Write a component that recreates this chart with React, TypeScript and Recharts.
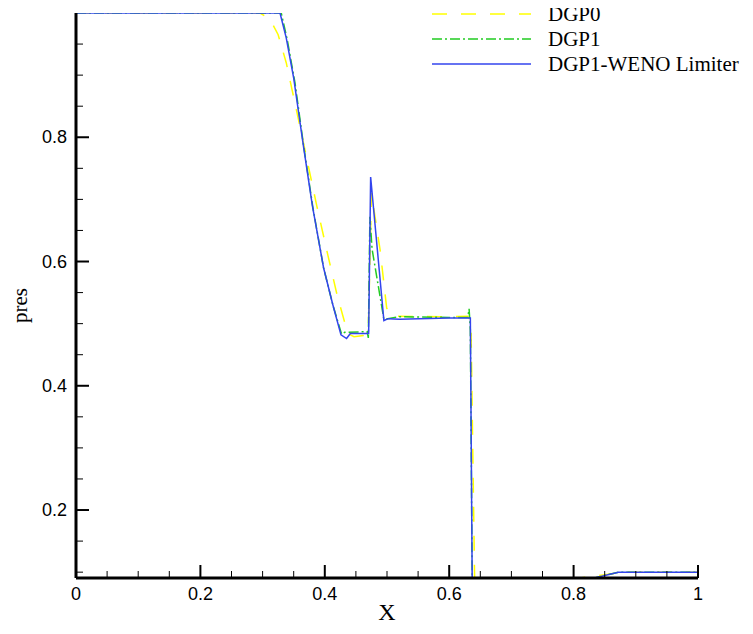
import React from 'react';
import { LineChart, Line, XAxis, YAxis, Label } from 'recharts';

// ---- tick values / labels ----
const xTicks = [0, 0.05, 0.1, 0.15, 0.2, 0.25, 0.3, 0.35, 0.4, 0.45, 0.5, 0.55, 0.6, 0.65, 0.7, 0.75, 0.8, 0.85, 0.9, 0.95, 1];
const xMajor = [0, 0.2, 0.4, 0.6, 0.8, 1];
const xMajorLabels = ['0', '0.2', '0.4', '0.6', '0.8', '1'];
const yTicks = [0.1, 0.15, 0.2, 0.25, 0.3, 0.35, 0.4, 0.45, 0.5, 0.55, 0.6, 0.65, 0.7, 0.75, 0.8, 0.85, 0.9, 0.95];
const yMajor = [0.2, 0.4, 0.6, 0.8];
const yMajorLabels = ['0.2', '0.4', '0.6', '0.8'];

// ---- series: DGP0 ----
const dgp0X = [0, 0.296, 0.312, 0.325, 0.338, 0.352, 0.368, 0.387, 0.405, 0.42, 0.437, 0.447, 0.462, 0.47, 0.475, 0.489, 0.4995, 0.51, 0.6, 0.63, 0.635, 0.641, 0.74, 0.81, 0.88, 1];
const dgp0Y = [1, 1, 0.99, 0.965, 0.92, 0.855, 0.78, 0.69, 0.61, 0.545, 0.484, 0.479, 0.481, 0.49, 0.71, 0.618, 0.525, 0.512, 0.511, 0.512, 0.5, 0.08, 0.08, 0.0906, 0.1, 0.1];

// ---- series: DGP1 ----
const dgp1X = [0, 0.33, 0.34, 0.352, 0.366, 0.381, 0.398, 0.413, 0.427, 0.432, 0.468, 0.47, 0.4725, 0.476, 0.495, 0.52, 0.6, 0.63, 0.632, 0.634, 0.637, 0.79, 0.872, 1];
const dgp1Y = [1, 1, 0.955, 0.888, 0.786, 0.686, 0.59, 0.53, 0.483, 0.486, 0.487, 0.477, 0.672, 0.62, 0.507, 0.511, 0.51, 0.51, 0.524, 0.49, 0.08, 0.08, 0.1, 0.1];

// ---- series: DGP1-WENO Limiter ----
const wenoX = [0, 0.328, 0.338, 0.35, 0.365, 0.38, 0.398, 0.413, 0.426, 0.435, 0.441, 0.4705, 0.4737, 0.495, 0.502, 0.52, 0.6, 0.634, 0.637, 0.79, 0.872, 1];
const wenoY = [1, 1, 0.96, 0.895, 0.79, 0.69, 0.59, 0.53, 0.482, 0.476, 0.484, 0.484, 0.736, 0.505, 0.508, 0.507, 0.509, 0.509, 0.08, 0.08, 0.1, 0.1];

const seriesNames = ['DGP0', 'DGP1', 'DGP1-WENO Limiter'];
const seriesColors = ['#ffff00', '#22cc22', '#3344ee'];
const seriesDash = ['15 14', '10 3 2 3', undefined];

const zip = (xs: number[], ys: number[]) => xs.map((x, i) => ({ x, y: ys[i] }));
const dgp0 = zip(dgp0X, dgp0Y);
const dgp1 = zip(dgp1X, dgp1Y);
const weno = zip(wenoX, wenoY);

const near = (a: number, b: number) => Math.abs(a - b) < 1e-6;

const XTick = (props: any) => {
  const { x, y, payload } = props;
  const v = payload.value;
  const mi = xMajor.findIndex((m) => near(m, v));
  const major = mi >= 0;
  return (
    <g>
      <line x1={x} x2={x} y1={y} y2={y - (major ? 13 : 7)} stroke="#000" strokeWidth={major ? 2 : 1} />
      {major && (
        <text x={x} y={y + 22} textAnchor="middle" fontFamily="Liberation Sans, Arial, sans-serif" fontSize={18} fill="#000">
          {xMajorLabels[mi]}
        </text>
      )}
    </g>
  );
};

const YTick = (props: any) => {
  const { x, y, payload } = props;
  const v = payload.value;
  const mi = yMajor.findIndex((m) => near(m, v));
  const major = mi >= 0;
  return (
    <g>
      <line x1={x} x2={x + (major ? 13 : 7)} y1={y} y2={y} stroke="#000" strokeWidth={major ? 2 : 1} />
      {major && (
        <text x={x - 9} y={y + 6} textAnchor="end" fontFamily="Liberation Sans, Arial, sans-serif" fontSize={18} fill="#000">
          {yMajorLabels[mi]}
        </text>
      )}
    </g>
  );
};

const LegendBox = () => (
  <svg width={320} height={90} style={{ display: 'block', position: 'absolute', left: 424, top: -8, overflow: 'visible' }}>
    {seriesNames.map((n, i) => (
      <g key={n}>
        <line x1={0} x2={99} y1={14 + i * 25} y2={14 + i * 25} stroke={seriesColors[i]} strokeWidth={1.5} strokeDasharray={seriesDash[i]} />
        <text x={116} y={21 + i * 25} fontFamily="Liberation Serif, Times New Roman, serif" fontSize={21} fill="#000">
          {n}
        </text>
      </g>
    ))}
  </svg>
);

export default function App() {
  return (
    <div style={{ position: 'relative', width: 745, height: 626 }}>
      <LineChart width={745} height={626} margin={{ top: 5, right: 55, bottom: 16, left: 8 }}>
        <XAxis
          dataKey="x"
          type="number"
          domain={[0, 1]}
          ticks={xTicks}
          interval={0}
          tickSize={0}
          tickMargin={0}
          tickLine={false}
          tick={XTick}
          height={40}
          axisLine={{ stroke: '#000', strokeWidth: 3 }}
        >
          <Label
            content={(p: any) => {
              const vb = p.viewBox;
              return (
                <text x={vb.x + vb.width / 2} y={vb.y + 42} textAnchor="middle" fontFamily="Liberation Serif, Times New Roman, serif" fontSize={24} fill="#000">
                  X
                </text>
              );
            }}
          />
        </XAxis>
        <YAxis
          dataKey="y"
          type="number"
          domain={[0.0906, 1]}
          allowDataOverflow
          ticks={yTicks}
          interval={0}
          tickSize={0}
          tickMargin={0}
          tickLine={false}
          tick={YTick}
          width={60}
          axisLine={{ stroke: '#000', strokeWidth: 3 }}
        >
          <Label
            content={(p: any) => {
              const vb = p.viewBox;
              const cx = vb.x + 4;
              const cy = vb.y + vb.height / 2 + 10;
              return (
                <text x={cx} y={cy} transform={`rotate(-90 ${cx} ${cy})`} textAnchor="middle" dominantBaseline="central" fontFamily="Liberation Serif, Times New Roman, serif" fontSize={21} fill="#000">
                  pres
                </text>
              );
            }}
          />
        </YAxis>
        <Line data={dgp0} dataKey="y" name={seriesNames[0]} stroke={seriesColors[0]} strokeWidth={1.5} strokeDasharray={seriesDash[0]} dot={false} isAnimationActive={false} />
        <Line data={dgp1} dataKey="y" name={seriesNames[1]} stroke={seriesColors[1]} strokeWidth={1.5} strokeDasharray={seriesDash[1]} dot={false} isAnimationActive={false} />
        <Line data={weno} dataKey="y" name={seriesNames[2]} stroke={seriesColors[2]} strokeWidth={1.5} dot={false} isAnimationActive={false} />
      </LineChart>
      <LegendBox />
    </div>
  );
}
